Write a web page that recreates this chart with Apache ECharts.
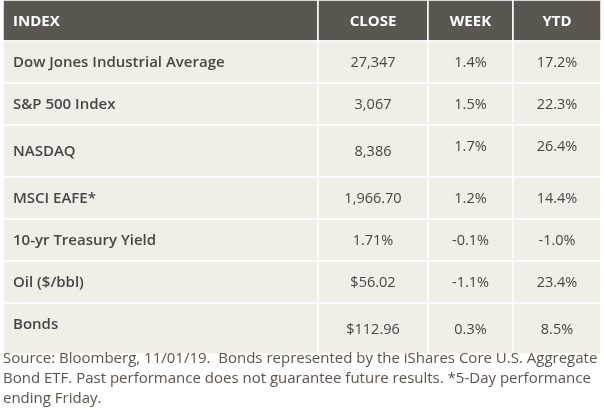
<!DOCTYPE html>
<html>
<head>
<meta charset="utf-8">
<script src="https://cdn.jsdelivr.net/npm/echarts@6/dist/echarts.min.js"></script>
<style>
  html, body { margin: 0; padding: 0; background: #fff; }
  #main { width: 604px; height: 409px; }
</style>
</head>
<body>
<div id="main"></div>
<script>
// table content
var columns = ["INDEX", "CLOSE", "WEEK", "YTD"];
var indexNames = ["Dow Jones Industrial Average", "S&P 500 Index", "NASDAQ", "MSCI EAFE*",
  "10-yr Treasury Yield", "Oil ($/bbl)", "Bonds"];
var closeValues = ["27,347", "3,067", "8,386", "1,966.70", "1.71%", "$56.02", "$112.96"];
var weekChange = ["1.4%", "1.5%", "1.7%", "1.2%", "-0.1%", "-1.1%", "0.3%"];
var ytdChange = ["17.2%", "22.3%", "26.4%", "14.4%", "-1.0%", "23.4%", "8.5%"];
var footnote = "Source: Bloomberg, 11/01/19.  Bonds represented by the iShares Core U.S. Aggregate\n" +
  "Bond ETF. Past performance does not guarantee future results. *5-Day performance\n" +
  "ending Friday.";

// layout (pixel space of the page, mapped through the axes)
var colEdges = [3, 318, 428, 513, 601];
var rowEdges = [0, 41, 83, 125, 177, 219, 261, 303, 354];
// small vertical nudges seen in the original table (row -> [col offsets])
var nudges = { 3: [0, 0, -5, -5], 7: [-5, 0, 0, 0] };

var chart = echarts.init(document.getElementById("main"));

var cells = [];
columns.forEach(function (c, ci) {
  cells.push({ col: ci, row: 0, text: c });
});
indexNames.forEach(function (name, i) {
  var r = i + 1;
  [name, closeValues[i], weekChange[i], ytdChange[i]].forEach(function (t, ci) {
    cells.push({ col: ci, row: r, text: t });
  });
});

function cellFont(header, left) {
  if (header) return "bold 15px 'Open Sans'";
  if (left) return "600 15px 'Open Sans'";
  return "normal 14.5px 'Open Sans'";
}

function renderCell(params, api) {
  var cell = cells[params.dataIndex];
  var p0 = api.coord([colEdges[cell.col], rowEdges[cell.row]]);
  var p1 = api.coord([colEdges[cell.col + 1], rowEdges[cell.row + 1]]);
  var header = cell.row === 0;
  var dy = nudges[cell.row] ? nudges[cell.row][cell.col] : 0;
  var left = cell.col === 0;
  return {
    type: "group",
    children: [
      {
        type: "rect",
        shape: { x: p0[0], y: p0[1], width: p1[0] - p0[0], height: p1[1] - p0[1] },
        style: { fill: header ? "#5b5650" : "#f1eee8", stroke: "#ffffff", lineWidth: 1.5 }
      },
      {
        type: "text",
        x: left ? p0[0] + 10 : (p0[0] + p1[0]) / 2,
        y: (p0[1] + p1[1]) / 2 + dy + 1,
        style: {
          text: cell.text,
          fill: header ? "#ffffff" : "#4a4544",
          font: cellFont(header, left),
          align: left ? "left" : "center",
          verticalAlign: "middle"
        }
      }
    ]
  };
}

var option = {
  animation: false,
  grid: { left: 0, right: 0, top: 0, bottom: 0 },
  xAxis: { type: "value", min: 0, max: 604, show: false },
  yAxis: { type: "value", min: 0, max: 409, inverse: true, show: false },
  graphic: [
    {
      type: "text",
      left: 3,
      top: 349,
      z: 100,
      style: {
        text: footnote,
        fill: "#59544f",
        font: "normal 15px 'Open Sans'",
        lineHeight: 20
      }
    }
  ],
  series: [
    {
      type: "custom",
      renderItem: renderCell,
      data: cells.map(function (c) { return [c.col, c.row]; }),
      silent: true
    }
  ]
};
chart.setOption(option);
</script>
</body>
</html>
